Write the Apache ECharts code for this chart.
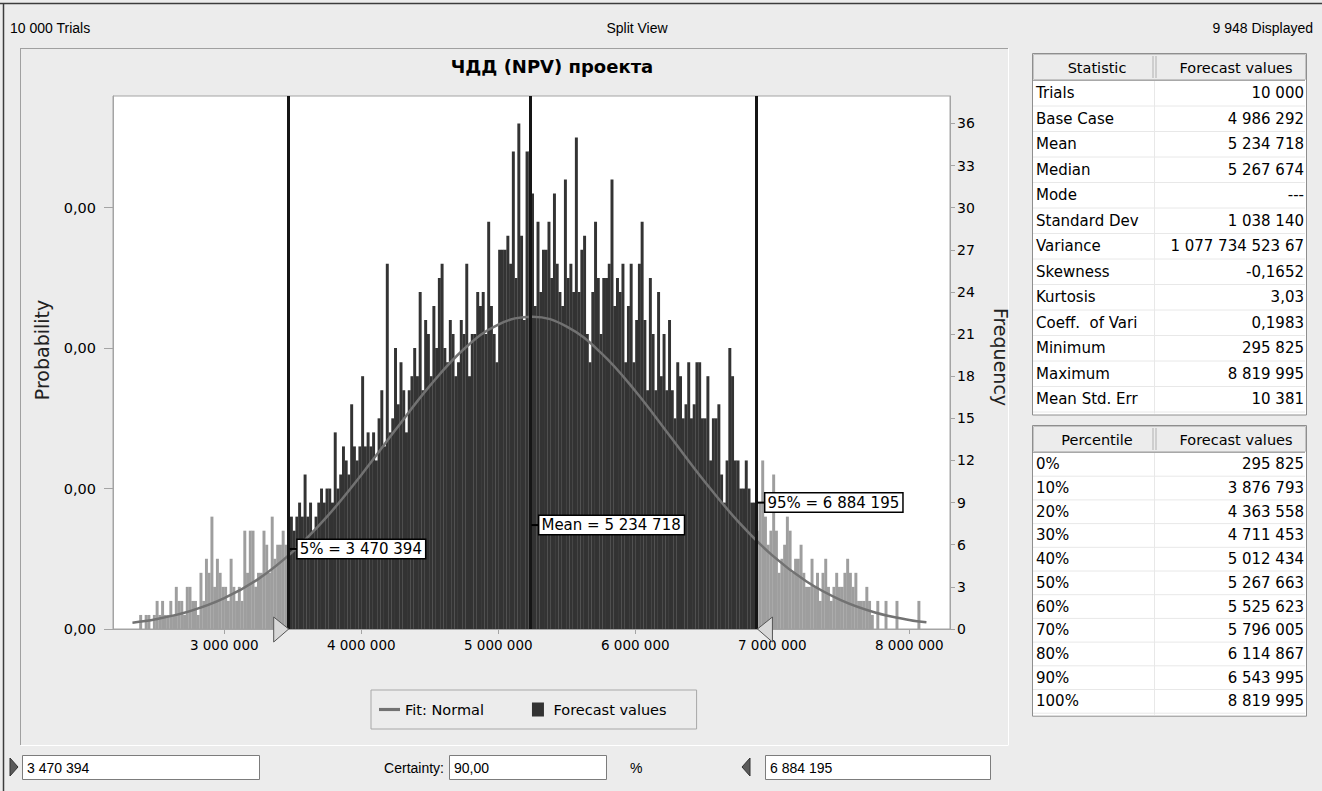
<!DOCTYPE html>
<html><head><meta charset="utf-8">
<script src="https://cdn.jsdelivr.net/npm/echarts@6/dist/echarts.min.js"></script>
<style>html,body{margin:0;padding:0;background:#ececec;}#c{width:1322px;height:791px;}</style>
</head><body><div id="c"></div>
<script>
// ---------------- DATA ----------------
const binStart = 2340000;
const binWidth = 20000;
// Frequency per bin, bins start at 2 340 000, width 20 000
const frequency = [
  0,0,1,0,1,1,0,1,2,1, 2,1,1,2,1,3,2,2,1,3, 3,2,2,1,4,2,5,4,8,3, 5,4,3,3,2,5,3,2,3,2,
  7,4,7,7,3,4,4,7,6,4, 8,5,6,6,7,6,5,
  8,7,8,9,8,11,8,9,7,8, 9,10,9,10,10,9,14,10,11,13, 12,11,16,13,12,13,18,13,14,13,
  14,12,15,17,13,26,14,15,20,16, 19,17,14,17,18,20,18,24,17,22, 21,18,23,20,25,26,20,19,22,21,
  18,19,22,21,26,18,21,21,24,23, 24,21,29,23,21,19,27,27,27,28, 26,34,25,36,28,22,34,34,31,23,
  29,24,27,27,29,25,31,26,24,23, 32,25,26,24,35,24,27,28,21,19, 24,29,25,21,25,25,26,32,23,25,
  24,26,19,23,26,19,22,26,29,22, 17,25,21,17,24,18,21,17,22,17, 15,19,18,15,16,19,15,16,19,19,
  15,15,18,12,15,15,16,11,9,12, 20,18,12,12,10,10,12,10,9,9,
  7,9,12,8,6,7,11,7,4,5, 6,8,7,4,5,5,6,4,3,3, 5,3,4,2,4,5,3,2,3,4, 3,3,4,5,4,3,4,2,2,2,
  3,2,1,0,2,0,0,2,0,0, 0,2,0,0,0,0,0,0,0,2, 0
];
const fitX = [2330000,2500000,2750000,3000000,3250000,3500000,3750000,4000000,4250000,4500000,4750000,5000000,5250000,
  5500000,5750000,6000000,6250000,6500000,6750000,7000000,7250000,7500000,7750000,8000000,8125000];
const fitY = [0.45,0.69,1.27,2.19,3.57,5.51,8.0,10.97,14.18,17.31,19.94,21.68,22.24,
  21.53,19.66,16.95,13.78,10.58,7.66,5.24,3.38,2.06,1.18,0.64,0.48];
const p5 = 3470394, meanValue = 5234718, p95 = 6884195;
const certainty = '90,00';
const xTicks = [3000000,4000000,5000000,6000000,7000000,8000000];
const freqTicks = [0,3,6,9,12,15,18,21,24,27,30,33,36];
const probTicks = [0,0.001,0.002,0.003];
const statNames = ['Trials','Base Case','Mean','Median','Mode','Standard Dev','Variance','Skewness','Kurtosis','Coeff.  of Vari','Minimum','Maximum','Mean Std. Err'];
const statValues = ['10 000','4 986 292','5 234 718','5 267 674','---','1 038 140','1 077 734 523 67','-0,1652','3,03','0,1983','295 825','8 819 995','10 381'];
const pctNames = ['0%','10%','20%','30%','40%','50%','60%','70%','80%','90%','100%'];
const pctValues = ['295 825','3 876 793','4 363 558','4 711 453','5 012 434','5 267 663','5 525 623','5 796 005','6 114 867','6 543 995','8 819 995'];
const headerTexts = ['10 000 Trials','Split View','9 948 Displayed'];
const chartTitle = 'ЧДД (NPV) проекта';

// ---------------- HELPERS ----------------
const FONT = '"DejaVu Sans", Verdana, sans-serif';
const FONT2 = '"Liberation Sans", Arial, sans-serif';
const fmt = v => String(Math.round(v)).replace(/\B(?=(\d{3})+(?!\d))/g, ' ');
const DARK = '#333333', TAIL = '#9e9e9e';

const barData = frequency.map((f, i) => {
  const c = binStart + binWidth * (i + 0.5);
  const inside = c >= p5 && c <= p95;
  return inside ? { value: [c, f] } : { value: [c, f], itemStyle: { color: TAIL } };
});

const chart = echarts.init(document.getElementById('c'), null, { renderer: 'svg', width: 1322, height: 791 });

const FMAX = 37.95;
chart.setOption({
  backgroundColor: '#ececec',
  animation: false,
  textStyle: { fontFamily: FONT },
  grid: { left: 113, top: 96, width: 837, height: 533, show: true, backgroundColor: '#ffffff', borderColor: '#a4a4a4', borderWidth: 1 },
  legend: {
    left: 371, top: 690, orient: 'horizontal',
    padding: [12, 30, 12, 8], itemGap: 48, itemWidth: 21, itemHeight: 14,
    backgroundColor: '#ececec', borderColor: '#a8a8a8', borderWidth: 1,
    selectedMode: false,
    textStyle: { fontSize: 14.5, color: '#000', fontFamily: FONT },
    data: [
      { name: 'Fit: Normal', icon: 'path://M0 0H20V3H0Z' },
      { name: 'Forecast values', icon: 'path://M0 0H12V14H0Z' }
    ]
  },
  xAxis: {
    type: 'value', min: 2188000, max: 8297000,
    axisLine: { show: true, lineStyle: { color: '#a4a4a4' } },
    axisTick: { show: true, customValues: xTicks, length: 5, lineStyle: { color: '#a4a4a4' } },
    axisLabel: { customValues: xTicks, formatter: v => fmt(v), fontSize: 13.5, color: '#000', margin: 9, fontFamily: FONT },
    splitLine: { show: false }
  },
  yAxis: [
    {
      type: 'value', position: 'left', min: 0, max: FMAX / 10000,
      axisLine: { show: true, lineStyle: { color: '#a4a4a4' } },
      axisTick: { show: true, customValues: probTicks, length: 9, lineStyle: { color: '#a4a4a4' } },
      axisLabel: { customValues: probTicks, formatter: () => '0,00', fontSize: 14.5, color: '#000', margin: 17, fontFamily: FONT },
      splitLine: { show: false }
    },
    {
      type: 'value', position: 'right', min: 0, max: FMAX,
      axisLine: { show: true, lineStyle: { color: '#a4a4a4' } },
      axisTick: { show: true, customValues: freqTicks, length: 5, lineStyle: { color: '#a4a4a4' } },
      axisLabel: { customValues: freqTicks, fontSize: 14, color: '#000', margin: 7, fontFamily: FONT },
      splitLine: { show: false }
    }
  ],
  series: [
    {
      name: 'Forecast values', type: 'bar', yAxisIndex: 1, barWidth: '108%',
      itemStyle: { color: DARK }, data: barData, silent: true, z: 2,
      markLine: {
        silent: true, symbol: 'none', animation: false,
        lineStyle: { color: '#151515', width: 3, type: 'solid' },
        label: { show: false },
        data: [{ xAxis: p5 }, { xAxis: meanValue }, { xAxis: p95 }],
        z: 5
      }
    },
    {
      name: 'Fit: Normal', type: 'line', yAxisIndex: 1, smooth: 0.4, showSymbol: false, silent: true,
      color: '#727272', lineStyle: { color: '#727272', width: 2.5 }, itemStyle: { color: '#727272' },
      data: fitX.map((x, i) => [x, fitY[i]]), z: 3
    }
  ]
});

// ---------------- GRAPHIC (texts, tables, controls, marker labels) ----------------
const G = [];
const txt = (text, x, y, o = {}) => G.push({
  type: 'text', x, y, rotation: o.rot || 0, z: 100,
  style: { text, fill: o.fill || '#000', font: (o.weight || 'normal') + ' ' + (o.size || 14) + 'px ' + (o.family || FONT),
    align: o.align || 'left', verticalAlign: 'middle' }
});
const line = (x1, y1, x2, y2, stroke, w = 1) => G.push({ type: 'line', z: 90, shape: { x1, y1, x2, y2 }, style: { stroke, lineWidth: w } });
const rect = (x, y, w, h, fill, stroke, lw = 1) => G.push({ type: 'rect', z: 80, shape: { x, y, width: w, height: h }, style: { fill, stroke, lineWidth: lw } });

// window frame
line(0, 3.5, 1322, 3.5, '#3c3c3c', 1.5);
line(3.5, 3.5, 3.5, 791, '#3c3c3c', 1.5);
// chart panel frame
line(20, 48.5, 1008, 48.5, '#a0a0a0');
line(20.5, 48.5, 20.5, 745, '#a0a0a0');
line(20.5, 745.5, 1008, 745.5, '#ffffff');
line(1008.5, 48.5, 1008.5, 745.5, '#ffffff');

// header
txt(headerTexts[0], 10, 28, { size: 14, family: FONT2 });
txt(headerTexts[1], 637, 28, { size: 14, align: 'center', family: FONT2 });
txt(headerTexts[2], 1313, 28, { size: 14, align: 'right', family: FONT2 });
// title + axis names
txt(chartTitle, 552, 66, { size: 18, weight: 'bold', align: 'center' });
txt('Probability', 42, 350, { size: 19, align: 'center', rot: Math.PI / 2, fill: '#222' });
txt('Frequency', 1001, 357, { size: 19, align: 'center', rot: -Math.PI / 2, fill: '#222' });

// tables
function table(top, headerH, rowH, h1, h2, names, values) {
  const L = 1032, R = 1306, D = 1155;
  const n = names.length;
  const bodyTop = top + headerH;
  const bottom = bodyTop + rowH * n;
  rect(L + 0.5, top + 0.5, R - L, bottom - top + 3, '#ffffff', '#8e8e8e');
  rect(L + 1.5, top + 1.5, R - L - 2, headerH - 2, '#ececec', '#c4c4c4');
  line(D - 2, top + 3, D - 2, bodyTop - 2, '#b0b0b0');
  line(D + 1, top + 3, D + 1, bodyTop - 2, '#b0b0b0');
  line(L + 1, bodyTop + 0.5, R - 1, bodyTop + 0.5, '#a8a8a8');
  for (let i = 1; i <= n; i++) line(L + 1, bodyTop + rowH * i + 0.5, R - 1, bodyTop + rowH * i + 0.5, '#e8e8e8');
  line(D - 0.5, bodyTop + 1, D - 0.5, bottom + 2, '#e8e8e8');
  txt(h1, 1097, top + headerH / 2 + 1, { size: 14.5, align: 'center' });
  txt(h2, 1236, top + headerH / 2 + 1, { size: 14.5, align: 'center' });
  names.forEach((nm, i) => {
    const y = bodyTop + rowH * (i + 0.5) + 0.5;
    txt(nm, 1036, y, { size: 15 });
    txt(values[i], 1304, y, { size: 15, align: 'right' });
  });
}
table(53, 27, 25.5, 'Statistic', 'Forecast values', statNames, statValues);
table(425, 27, 23.7, 'Percentile', 'Forecast values', pctNames, pctValues);

// bottom controls
G.push({ type: 'polygon', z: 90, shape: { points: [[10, 758], [18, 767], [10, 776]] }, style: { fill: '#5a5a5a', stroke: '#333' } });
rect(22.5, 755.5, 237, 24, '#ffffff', '#7c7c7c');
txt(fmt(p5), 27, 768, { size: 14, family: FONT2 });
txt('Certainty:', 444, 768, { size: 14, align: 'right', family: FONT2 });
rect(449.5, 755.5, 157, 24, '#ffffff', '#7c7c7c');
txt(certainty, 454, 768, { size: 14, family: FONT2 });
txt('%', 630, 768, { size: 14, family: FONT2 });
G.push({ type: 'polygon', z: 90, shape: { points: [[750, 758], [742, 767], [750, 776]] }, style: { fill: '#5a5a5a', stroke: '#333' } });
rect(765.5, 755.5, 225, 24, '#ffffff', '#7c7c7c');
txt(fmt(p95), 770, 768, { size: 14, family: FONT2 });

// marker labels, positioned through the chart's scales
const yBase = chart.convertToPixel({ yAxisIndex: 1 }, 0);
const markers = [
  { v: p5, text: '5% = ' + fmt(p5), f: 5.7, tri: 'right' },
  { v: meanValue, text: 'Mean = ' + fmt(meanValue), f: 7.4 },
  { v: p95, text: '95% = ' + fmt(p95), f: 9.0, tri: 'left' }
];
markers.forEach(m => {
  const x = chart.convertToPixel({ xAxisIndex: 0 }, m.v);
  const y = chart.convertToPixel({ yAxisIndex: 1 }, m.f);
  line(x + 1, y, x + 9, y, '#000', 2);
  G.push({ type: 'text', x: x + 9, y: y, z: 110,
    style: { text: m.text, font: '15px ' + FONT, fill: '#000', align: 'left', verticalAlign: 'middle',
      backgroundColor: '#ffffff', borderColor: '#000', borderWidth: 1.5, padding: [2, 3, 1, 2] } });
  if (m.tri === 'right') {
    G.push({ type: 'polygon', z: 110, shape: { points: [[x - 15, yBase - 12], [x, yBase], [x - 15, yBase + 13]] }, style: { fill: '#d8d8d8', stroke: '#555', lineWidth: 1 } });
  } else if (m.tri === 'left') {
    G.push({ type: 'polygon', z: 110, shape: { points: [[x + 16, yBase - 12], [x + 1, yBase], [x + 16, yBase + 13]] }, style: { fill: '#d8d8d8', stroke: '#555', lineWidth: 1 } });
  }
});

chart.setOption({ graphic: G });
</script></body></html>
